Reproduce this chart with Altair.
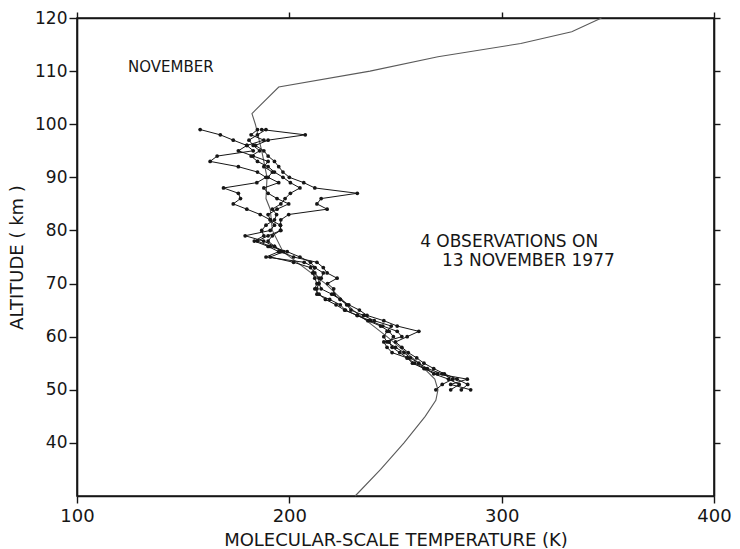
import altair as alt
import pandas as pd

# ---- data ----
model_alt = [30, 35, 40, 45, 48, 50, 52, 55, 60, 65, 70, 76, 80, 84, 86, 90, 95, 100, 102, 107, 110, 112.7, 115.2, 117.4, 120]
model_temp = [231, 243, 254, 264, 269, 270, 268.5, 261, 246, 230, 217, 197, 192, 191, 189, 189.5, 187, 184, 182.4, 195, 238, 270, 309, 333, 347]

obs_alt = list(range(99, 49, -1))
obs_a = [158, 167.5, 173.6, 180, 183, 166, 162.7, 176, 185, 189,
         184.7, 169, 176, 177, 173.6, 180, 186.3, 191, 193, 191,
         179.2, 187.9, 193, 197.3, 191, 202, 210, 212, 214, 213.8,
         213, 213, 219, 224, 226.4, 232, 238.2, 244, 250.8, 253,
         244.5, 246, 248.4, 255.5, 258, 263.4, 269.7, 283.8, 276, 285.4]
obs_b = [187, 207.5, 190, 184, 188, 190, 193, 195, 197, 200,
         206.8, 212, 232, 215, 213, 217.8, 199.7, 196, 195.8, 195.8,
         192, 190, 193, 196, 202, 213, 216, 217.8, 222.5, 218,
         220.9, 221, 224, 228, 233, 236.6, 244.5, 250.8, 261, 255.5,
         250, 253, 256, 260, 263.4, 268, 273, 279, 284, 281]
obs_c = [185, 182, 188, 180, 176, 183, 190, 188, 192, 190,
         195, 188, 190, 194.2, 199.7, 194.2, 190, 191, 195.8, 196,
         190, 185, 191, 199, 205, 210, 212, 216, 215, 214,
         215, 220, 224, 227, 229, 235, 240, 248, 246, 244.5,
         246, 250, 254, 257, 261, 265, 272, 277, 272, 269]
obs_d = [189, 185, 181, 183, 186, 182, 185, 190, 193, 197,
         200.5, 205, 200.5, 198, 196, 192, 194, 193, 189, 187,
         188, 183.5, 190, 195, 189, 207, 212, 211, 212, 213,
         212, 214, 217, 222, 226, 232, 237, 243, 247, 249,
         247, 248.4, 252, 255.5, 259, 264, 268, 275, 280, 276]
obs_names = ["A", "B", "C", "D"]

note_text = ["NOVEMBER", "4 OBSERVATIONS ON", "13 NOVEMBER 1977"]
note_temp = [124.0, 261.6, 271.9]
note_alt = [110.8, 77.9, 74.25]
note_size = [15, 17, 17]

x_ticks = [100, 200, 300, 400]
y_ticks = [40, 50, 60, 70, 80, 90, 100, 110, 120]

# ---- tables ----
model_df = pd.DataFrame({"alt": model_alt, "temp": model_temp})
obs_rows = []
for name, temps in zip(obs_names, [obs_a, obs_b, obs_c, obs_d]):
    for a, t in zip(obs_alt, temps):
        obs_rows.append({"obs": name, "alt": a, "temp": t})
obs_df = pd.DataFrame(obs_rows)
note_df = pd.DataFrame({"text": note_text, "temp": note_temp, "alt": note_alt, "size": note_size})

FONT = "DejaVu Sans"
INK = "#161616"

xscale = alt.Scale(domain=[100, 400], nice=False, zero=False)
yscale = alt.Scale(domain=[30, 120], nice=False, zero=False)

x_main = alt.Axis(values=x_ticks, title="MOLECULAR-SCALE TEMPERATURE (K)",
                  labelFontSize=18, titleFontSize=18, labelPadding=4,
                  titlePadding=6, tickSize=7, format="d", labelFlush=False)
y_main = alt.Axis(values=y_ticks, title="ALTITUDE ( km )",
                  labelFontSize=17, titleFontSize=18, labelPadding=2,
                  titlePadding=8, tickSize=8, format="d", labelFlush=False)

model = alt.Chart(model_df).mark_line(color="#5a5a5a", strokeWidth=1.1).encode(
    x=alt.X("temp:Q", scale=xscale, axis=x_main),
    y=alt.Y("alt:Q", scale=yscale, axis=y_main),
    order=alt.Order("alt:Q", sort="ascending"),
)

obs_lines = alt.Chart(obs_df).mark_line(color=INK, strokeWidth=1).encode(
    x=alt.X("temp:Q", scale=xscale,
            axis=alt.Axis(orient="top", values=x_ticks, labels=False, title=None, tickSize=6)),
    y=alt.Y("alt:Q", scale=yscale,
            axis=alt.Axis(orient="right", values=y_ticks, labels=False, title=None, tickSize=6)),
    detail="obs:N",
    order=alt.Order("alt:Q", sort="descending"),
)

obs_pts = alt.Chart(obs_df).mark_circle(color=INK, size=14, opacity=1).encode(
    x=alt.X("temp:Q", scale=xscale, axis=None),
    y=alt.Y("alt:Q", scale=yscale, axis=None),
)

notes = alt.Chart(note_df).mark_text(align="left", baseline="middle", font=FONT,
                                     color=INK).encode(
    x=alt.X("temp:Q", scale=xscale, axis=None),
    y=alt.Y("alt:Q", scale=yscale, axis=None),
    text="text:N",
    size=alt.Size("size:Q", scale=None, legend=None),
)

chart = alt.layer(model, obs_lines, obs_pts, notes).resolve_axis(
    x="independent", y="independent"
).properties(
    width=637, height=478,
    autosize=alt.AutoSizeParams(type="none"),
    padding={"left": 77, "top": 18, "right": 26, "bottom": 53},
    background="white",
).configure_view(
    stroke=INK, strokeWidth=1.6
).configure_axis(
    grid=False, domainColor=INK, domainWidth=1.6, tickColor=INK, tickWidth=1.4,
    labelColor=INK, titleColor=INK, labelFont=FONT, titleFont=FONT,
    titleFontWeight="normal",
)

chart.save("out.html", embed_options={"renderer": "svg", "actions": False})
